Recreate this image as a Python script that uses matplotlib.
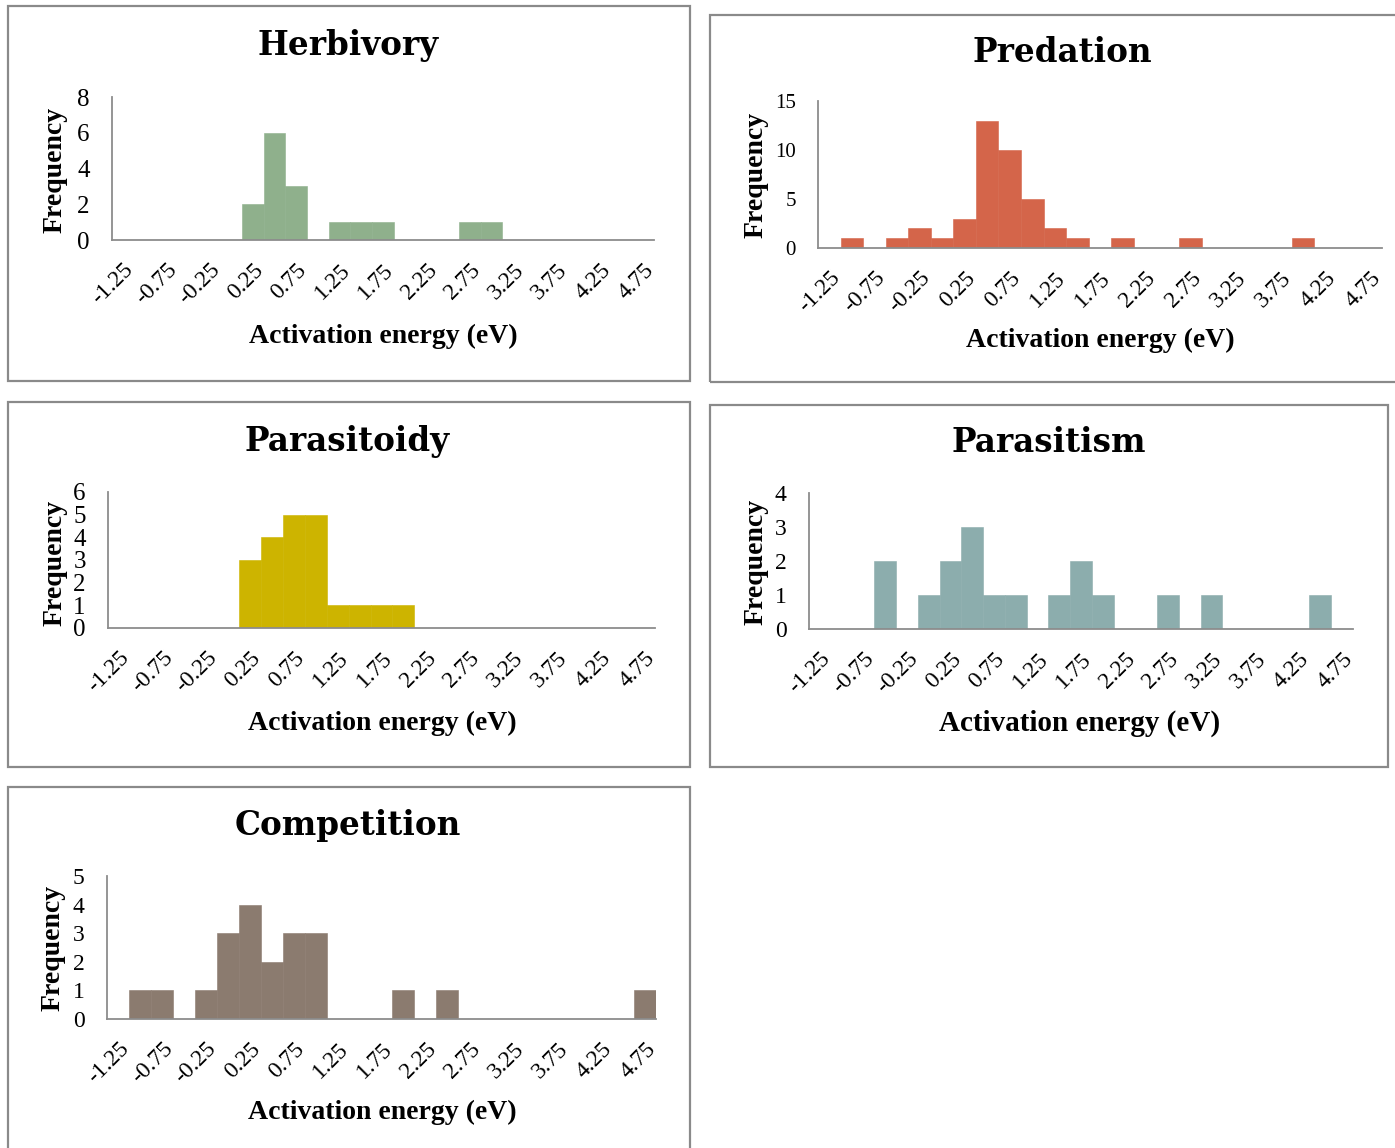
import matplotlib
matplotlib.use("Agg")
import matplotlib.pyplot as plt
from matplotlib.patches import Rectangle

W, H = 1395, 1148

# bin labels (activation energy, eV), 0.25 steps
bins = [-1.25 + 0.25 * i for i in range(25)]

herbivory   = [0, 0, 0, 0, 0, 0, 2, 6, 3, 0, 1, 1, 1, 0, 0, 0, 1, 1, 0, 0, 0, 0, 0, 0, 0]
predation   = [0, 1, 0, 1, 2, 1, 3, 13, 10, 5, 2, 1, 0, 1, 0, 0, 1, 0, 0, 0, 0, 1, 0, 0, 0]
parasitoidy = [0, 0, 0, 0, 0, 0, 3, 4, 5, 5, 1, 1, 1, 1, 0, 0, 0, 0, 0, 0, 0, 0, 0, 0, 0]
parasitism  = [0, 0, 0, 2, 0, 1, 2, 3, 1, 1, 0, 1, 2, 1, 0, 0, 1, 0, 1, 0, 0, 0, 0, 1, 0]
competition = [0, 1, 1, 0, 1, 3, 4, 2, 3, 3, 0, 0, 0, 1, 0, 1, 0, 0, 0, 0, 0, 0, 0, 0, 1]

titles = ["Herbivory", "Predation", "Parasitoidy", "Parasitism", "Competition"]
series = [herbivory, predation, parasitoidy, parasitism, competition]
colors = ["#8fb08c", "#d4654a", "#cdb400", "#8cadad", "#8b7b6f"]
y_max = [8, 15, 6, 4, 5]
y_step = [2, 5, 1, 1, 1]

# layout in pixels: panel box (l, t, r, b), axes (l, t, r, b), title xy, xlabel xy, ylabel xy
panels = [
    dict(box=(8, 6, 690, 381), ax=(112, 97, 654, 240), title=(348, 46),
         xl=(383, 336), yl=(55, 170), ysz=18, xsz=17, xlsz=20),
    dict(box=(710, 15, 1400, 382), ax=(818, 101, 1382, 248), title=(1062, 52),
         xl=(1100, 340), yl=(756, 175), ysz=15, xsz=17, xlsz=20),
    dict(box=(8, 402, 690, 767), ax=(108, 492, 655, 628), title=(347, 441),
         xl=(382, 723), yl=(55, 563), ysz=18, xsz=17, xlsz=20),
    dict(box=(710, 405, 1388, 767), ax=(809, 493, 1353, 629), title=(1049, 443),
         xl=(1080, 723), yl=(756, 562), ysz=17, xsz=17, xlsz=21),
    dict(box=(8, 787, 690, 1160), ax=(107, 876, 656, 1019), title=(348, 826),
         xl=(382, 1112), yl=(53, 948), ysz=17, xsz=17, xlsz=20),
]

serif = "Liberation Serif"
axis_gray = "#8c8c8c"

fig = plt.figure(figsize=(W / 100, H / 100), dpi=100)


def fx(px):
    return px / W


def fy(py):
    return 1 - py / H


for p, name, vals, col, ymax, ystep in zip(panels, titles, series, colors, y_max, y_step):
    l, t, r, b = p["box"]
    fig.patches.append(Rectangle((fx(l), fy(b)), fx(r) - fx(l), fy(t) - fy(b),
                                 transform=fig.transFigure, fill=False,
                                 edgecolor="#8a8a8a", linewidth=1.6))

    al, at, ar, ab = p["ax"]
    ax = fig.add_axes([fx(al), fy(ab), fx(ar) - fx(al), fy(at) - fy(ab)])
    idx = list(range(len(bins)))
    ax.bar(idx, vals, width=1.0, color=col, edgecolor=col, linewidth=0.4)
    ax.set_xlim(-0.5, len(bins) - 0.5)
    ax.set_ylim(0, ymax)
    ax.set_yticks(range(0, ymax + 1, ystep))
    ax.set_xticks(idx[::2])
    ax.set_xticklabels(["%.2f" % v for v in bins[::2]], rotation=45,
                       ha="right", va="top", rotation_mode="anchor")
    for lab in ax.get_xticklabels():
        lab.set_fontfamily(serif)
        lab.set_fontsize(p["xsz"])
    for lab in ax.get_yticklabels():
        lab.set_fontfamily(serif)
        lab.set_fontsize(p["ysz"])
    ax.tick_params(axis="y", length=0, pad=16)
    ax.tick_params(axis="x", length=0, pad=14)
    for s in ["top", "right"]:
        ax.spines[s].set_visible(False)
    for s in ["left", "bottom"]:
        ax.spines[s].set_color(axis_gray)
        ax.spines[s].set_linewidth(1.3)
    ax.patch.set_alpha(0)

    tx, ty = p["title"]
    fig.text(fx(tx), fy(ty), name, ha="center", va="center",
             fontfamily="DejaVu Serif", fontweight="bold", fontsize=23.5)
    xx, xy = p["xl"]
    fig.text(fx(xx), fy(xy), "Activation energy (eV)", ha="center", va="center",
             fontfamily=serif, fontweight="bold", fontsize=p["xlsz"])
    yx, yy = p["yl"]
    fig.text(fx(yx), fy(yy), "Frequency", ha="center", va="center", rotation=90,
             fontfamily=serif, fontweight="bold", fontsize=20)

fig.savefig("out.png", dpi=100, facecolor="white")
